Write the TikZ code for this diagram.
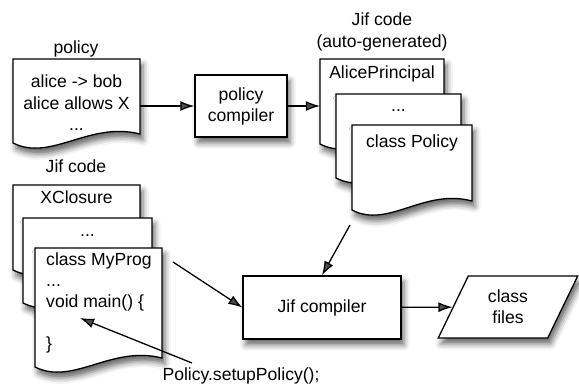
\documentclass[tikz,border=0pt]{standalone}
\usepackage{fontspec}
\setmainfont{Liberation Sans}
\usetikzlibrary{arrows.meta, positioning, shapes.geometric, shadows.blur, calc}

% document page with a wavy lower edge: name, x, y, width, height
\newcommand{\docpage}[5]{%
  \filldraw[docline] (#2,#3) coordinate (#1 nw) -- ({#2+#4},#3) coordinate (#1 ne)
    -- ({#2+#4},{#3+#5-9})
    .. controls ({#2+0.6*#4},{#3+#5-22}) and ({#2+0.3*#4},{#3+#5+19}) .. (#2,{#3+#5}) -- cycle;
}

\tikzset{
  softshadow/.style={blur shadow={shadow xshift=2.5pt, shadow yshift=-5pt,
    shadow blur radius=5pt, shadow opacity=60}},
  docline/.style={draw=black, fill=white, line width=1.1pt, softshadow},
  procbox/.style={draw=black, fill=white, line width=1.1pt, inner sep=0pt, align=center, softshadow},
  doctext/.style={anchor=base, inner sep=0pt},
  arr/.style={-{Latex[length=12pt,width=8.5pt]}, line width=1.1pt},
}

\begin{document}
\begin{tikzpicture}[x=0.03cm, y=-0.03cm, font=\fontsize{15}{18}\selectfont]
  \useasboundingbox (0,0) rectangle (579,383);

  % Policy source
  \node[doctext] (policylbl) at (76,53) {policy};
  \docpage{poldoc}{13}{59}{127}{84}
  \node[anchor=north, inner sep=0pt, align=center] (poltext) at (76.5,75) {alice -> bob\\alice allows X\\...};

  % Policy compiler
  \node[procbox, minimum width=2.76cm, minimum height=1.86cm] (polc) at (241,106) {policy\\compiler};

  % Generated Jif code
  \node[anchor=north, inner sep=0pt, align=center] (genlbl) at (382,13) {Jif code\\(auto-generated)};
  \docpage{gena}{320}{59}{124}{85}
  \node[doctext] (alicep) at (382,78) {AlicePrincipal};
  \docpage{genb}{336}{94}{125}{84}
  \node[doctext] (gendots) at (398.5,111) {...};
  \docpage{genc}{352}{125}{120}{85}
  \node[doctext] (clspol) at (412,147) {class Policy};

  % Hand-written Jif code
  \node[doctext] (jiflbl) at (76,172) {Jif code};
  \docpage{progx}{13}{185}{127}{85}
  \node[doctext] (xclos) at (76.5,203) {XClosure};
  \docpage{progy}{23}{218}{129}{85}
  \node[doctext] (progdots) at (87.5,236) {...};
  \docpage{progz}{35}{248}{127}{119}
  \node[anchor=north west, inner sep=0pt, align=left] (myprog) at (46,252.5)
    {class MyProg\\...\\void main() \{\\[18pt]\}};

  % Jif compiler and output
  \node[procbox, minimum width=4.74cm, minimum height=1.89cm] (jifc) at (322,307.5) {Jif compiler};
  \node[procbox, trapezium, trapezium left angle=66, trapezium right angle=114,
        trapezium stretches=true, minimum width=4.2cm, minimum height=1.86cm] (files) at (508,307) {class\\files};

  \node[doctext] (setup) at (241,380) {Policy.setupPolicy();};
  \coordinate (setupfrom) at (192,363);
  \coordinate (callsite) at (80,318);
  \coordinate (gendrop) at (350,225);
  \coordinate (progout) at (173,262);

  % Connectors
  \draw[arr] (polc.west -| poldoc ne) -- (polc.west);
  \draw[arr] (polc.east) -- (polc.east -| gena nw);
  \draw[arr] (gendrop) -- (jifc.north);
  \draw[arr] (progout) -- (jifc.west);
  \draw[arr] (jifc) -- (files);
  \draw[arr] (setupfrom) -- (callsite);
\end{tikzpicture}
\end{document}
